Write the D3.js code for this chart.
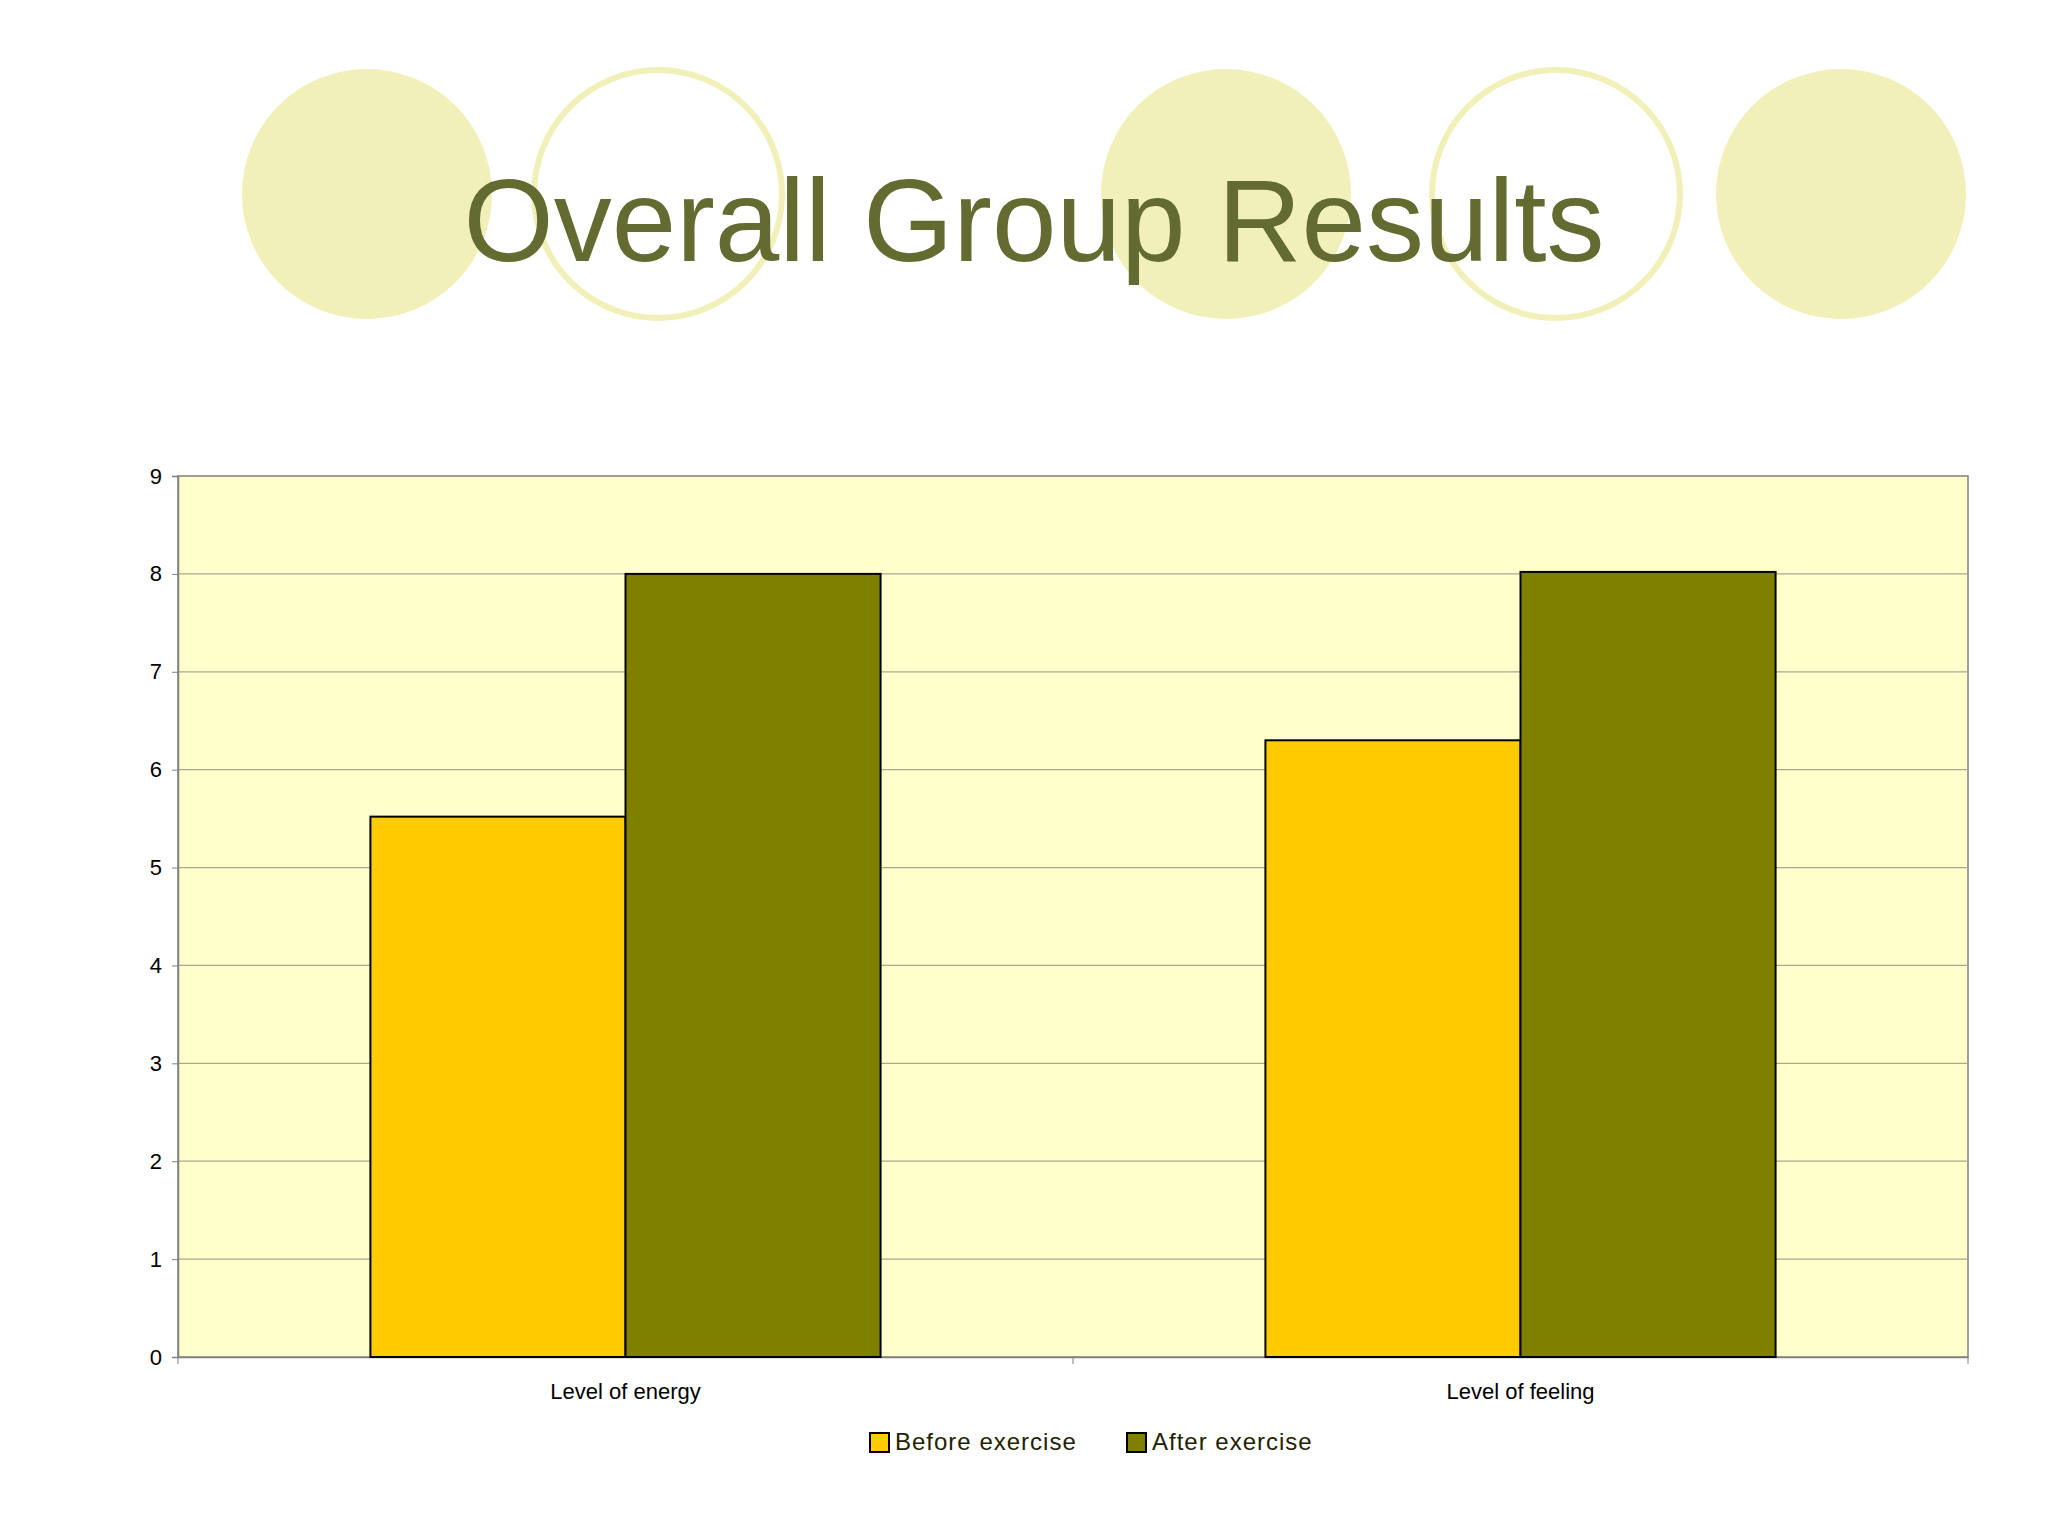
<!DOCTYPE html>
<html>
<head>
<meta charset="utf-8">
<script src="https://cdn.jsdelivr.net/npm/d3@7"></script>
<style>body{margin:0;background:#fff}svg{display:block}</style>
</head>
<body>
<svg id="chart" width="2048" height="1536"></svg>
<script>
const categories = ['Level of energy', 'Level of feeling']
const series = ['Before exercise', 'After exercise']
const before = [5.52, 6.3]
const after = [8.0, 8.02]
const yTicks = [0, 1, 2, 3, 4, 5, 6, 7, 8, 9]
const colors = ['#ffcc00', '#808000']

const svg = d3.select('#chart')
const font = 'Liberation Sans, Arial, sans-serif'

// decorative circles
const deco = [
  {x: 367, fill: true}, {x: 658, fill: false}, {x: 1226, fill: true},
  {x: 1556, fill: false}, {x: 1841, fill: true}
]
svg.selectAll('circle.deco').data(deco).enter().append('circle')
  .attr('cx', d => d.x).attr('cy', 194).attr('r', d => d.fill ? 125 : 124)
  .style('fill', d => d.fill ? '#f0f0b8' : 'none')
  .style('stroke', '#f0f0b8').style('stroke-width', d => d.fill ? 0 : 6)

svg.append('text').attr('x', 1034).attr('y', 261).attr('text-anchor', 'middle')
  .style('font-family', font).style('font-size', '116px').style('fill', '#646b30')
  .text('Overall Group Results')

const pL = 178, pR = 1968, pT = 476, pB = 1357
const y = d3.scaleLinear().domain([0, 9]).range([pB, pT])
const x0 = d3.scaleBand().domain(categories).range([pL, pR]).padding(0)
const x1 = d3.scaleBand().domain(series)
  .range([x0.bandwidth() * 0.215, x0.bandwidth() * 0.785])

svg.append('rect').attr('x', pL).attr('y', pT)
  .attr('width', pR - pL).attr('height', pB - pT)
  .style('fill', '#ffffcc').style('stroke', '#808080').style('stroke-width', 1.5)

svg.selectAll('line.grid').data(yTicks.slice(1, -1)).enter().append('line')
  .attr('x1', pL).attr('x2', pR).attr('y1', d => y(d)).attr('y2', d => y(d))
  .style('stroke', '#a8a890').style('stroke-width', 1.3)

const yAxis = svg.append('g').attr('transform', `translate(${pL},0)`)
  .call(d3.axisLeft(y).tickValues(yTicks).tickSize(6).tickPadding(10))
const xAxis = svg.append('g').attr('transform', `translate(0,${pB})`)
  .call(d3.axisBottom(x0).tickSize(0).tickPadding(26))
xAxis.selectAll('line.sep').data([pL, (pL + pR) / 2, pR]).enter().append('line')
  .attr('x1', d => d).attr('x2', d => d).attr('y1', 0).attr('y2', 7)
  .style('stroke', '#808080')
;[yAxis, xAxis].forEach(a => {
  a.select('.domain').style('stroke', '#808080').style('stroke-width', 1.5)
  a.selectAll('.tick line').style('stroke', '#808080')
  a.selectAll('text').style('font-family', font).style('font-size', '22px').style('fill', '#000')
})

const rows = categories.map((c, i) => ({c, vals: [before[i], after[i]]}))
svg.selectAll('g.grp').data(rows).enter().append('g')
  .attr('transform', d => `translate(${x0(d.c)},0)`)
  .selectAll('rect').data(d => d.vals.map((v, j) => ({s: series[j], v, j}))).enter()
  .append('rect')
  .attr('x', d => x1(d.s)).attr('width', x1.bandwidth())
  .attr('y', d => y(d.v)).attr('height', d => pB - y(d.v))
  .style('fill', d => colors[d.j]).style('stroke', '#000').style('stroke-width', 2)

const lg = svg.selectAll('g.leg').data(series).enter().append('g')
  .attr('transform', (d, i) => `translate(${[870, 1127][i]},1433)`)
lg.append('rect').attr('width', 19).attr('height', 19)
  .style('fill', (d, i) => colors[i]).style('stroke', '#000').style('stroke-width', 2)
lg.append('text').attr('x', 25).attr('y', 17).text(d => d)
  .style('font-family', font).style('font-size', '24px').style('letter-spacing', '1px')
  .style('fill', '#222200')
</script>
</body>
</html>
